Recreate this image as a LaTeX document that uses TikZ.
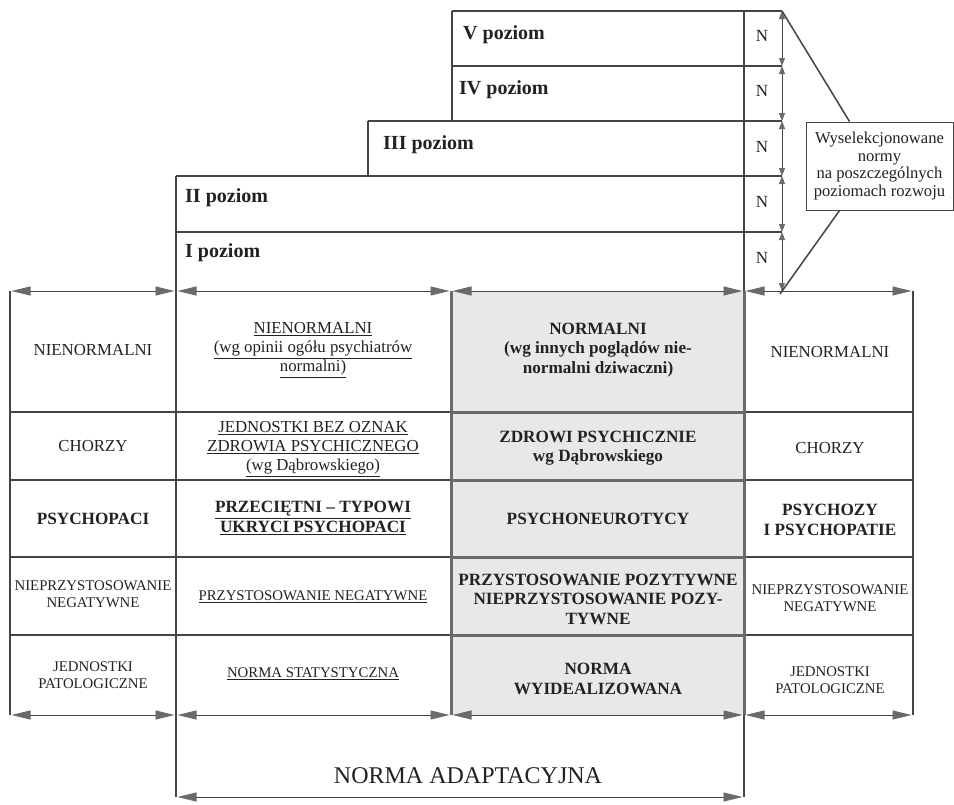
\documentclass[tikz,border=0pt]{standalone}
\usepackage{fontspec}
\setmainfont{Liberation Serif}
\usetikzlibrary{arrows.meta,calc}
\definecolor{linecol}{HTML}{444444}
\definecolor{tipcol}{HTML}{6A6A6A}
\definecolor{shadecol}{HTML}{E8E8E8}
\definecolor{thickcol}{HTML}{6A6A6A}
\definecolor{txtcol}{HTML}{222222}
\newcommand{\fsMain}{\fontsize{16.8}{19}\selectfont}
\newcommand{\fsBold}{\fontsize{17.2}{19.5}\selectfont\bfseries}
\newcommand{\fsSmall}{\fontsize{14.8}{16.5}\selectfont}
\begin{document}
\begin{tikzpicture}[x=1pt,y=-1pt,
  gridline/.style={draw=linecol,line width=1.1pt},
  boldline/.style={draw=thickcol,line width=3pt},
  dimarrow/.style={draw=linecol,line width=0.9pt,
    {Triangle[length=19pt,width=9pt,color=tipcol,fill=tipcol]}-{Triangle[length=19pt,width=9pt,color=tipcol,fill=tipcol]},
    shorten <=1.5pt,shorten >=1.5pt},
  lvlarrow/.style={draw=linecol,line width=0.9pt,
    {Triangle[length=8pt,width=6pt,color=tipcol,fill=tipcol]}-{Triangle[length=8pt,width=6pt,color=tipcol,fill=tipcol]}},
  cell/.style={align=center,text=txtcol,font=\fsMain,inner sep=0pt},
  smallcell/.style={align=center,text=txtcol,font=\fsSmall,inner sep=0pt},
  boldcell/.style={align=center,text=txtcol,font=\fsBold,inner sep=0pt},
  lvl/.style={anchor=west,text=txtcol,font=\fontsize{20}{22}\selectfont\bfseries,inner sep=0pt},
  nlab/.style={text=txtcol,font=\fontsize{17}{19}\selectfont,inner sep=0pt},
]
\useasboundingbox (0,0) rectangle (954,804);
\fill[white] (0,0) rectangle (954,804);

% grid coordinates
\foreach \xx [count=\i from 0] in {10,176,451,744,913}{
  \foreach \yy [count=\j from 0] in {291,412,480,557,635,715,797}{
    \coordinate (g\i\j) at (\xx,\yy);
  }
}
% level coordinates
\coordinate (P5) at (452,11);
\coordinate (P4) at (452,66);
\coordinate (P3) at (368,121);
\coordinate (Q3) at (452,121);
\coordinate (P2) at (176,176);
\coordinate (Q2) at (368,176);
\coordinate (P1) at (176,232);
\coordinate (R5) at (782,11);
\coordinate (R4) at (782,66);
\coordinate (R3) at (782,121);
\coordinate (R2) at (782,176);
\coordinate (R1) at (782,232);
\coordinate (R0) at (782,291);
\coordinate (Ntop) at (744,11);

% shaded column
\fill[shadecol] (g20) rectangle (g35);

% level boxes
\draw[gridline] (P5) -- (R5);
\draw[gridline] (P4) -- (R4);
\draw[gridline] (P3) -- (R3);
\draw[gridline] (P2) -- (R2);
\draw[gridline] (P1) -- (R1);
\draw[gridline] (P5) -- (Q3);
\draw[gridline] (P3) -- (Q2);
\draw[gridline] (P2) -- (g16);
\draw[gridline] (Ntop) -- (g36);
\draw[lvlarrow] (R5) -- (R4);
\draw[lvlarrow] (R4) -- (R3);
\draw[lvlarrow] (R3) -- (R2);
\draw[lvlarrow] (R2) -- (R1);
\draw[lvlarrow] (R1) -- (R0);

% outer verticals
\draw[gridline] (g00) -- (g05);
\draw[gridline] (g40) -- (g45);

% row dividers
\foreach \j in {1,2,3,4}{
  \draw[gridline] (g0\j) -- (g2\j);
  \draw[gridline] (g3\j) -- (g4\j);
}
\foreach \j in {1,2,3,4}{
  \draw[boldline] (g2\j) -- (g3\j);
}
\draw[boldline] (g20) -- (g25);
\draw[boldline] (g30) -- (g35);

% dimension arrows
\foreach \j in {0,5}{
  \draw[dimarrow] (g0\j) -- (g1\j);
  \draw[dimarrow] (g1\j) -- (g2\j);
  \draw[dimarrow] (g2\j) -- (g3\j);
  \draw[dimarrow] (g3\j) -- (g4\j);
}
\draw[dimarrow] (g16) -- (g36);

% selection box
\node[draw=linecol,line width=0.9pt,minimum width=147pt,minimum height=88pt,inner sep=0pt,
      align=center,text=txtcol,font=\fontsize{16.6}{17.8}\selectfont] (sel) at (879.5,166)
  {Wyselekcjonowane\\normy\\na poszczególnych\\poziomach rozwoju};
\coordinate (selA) at ($(sel.north west)+(44,0)$);
\coordinate (selB) at ($(sel.south west)+(34,0)$);
\coordinate (selC) at (780,294);
\draw[draw=linecol,line width=1.5pt] (R5) -- (selA);
\draw[draw=linecol,line width=1.5pt] (selB) -- (selC);

% level labels
\node[lvl] (l5) at (463,35) {V poziom};
\node[lvl] (l4) at (459,90) {IV poziom};
\node[lvl] (l3) at (383,145) {III poziom};
\node[lvl] (l2) at (185,198) {II poziom};
\node[lvl] (l1) at (185,253) {I poziom};
\node[nlab] (n5) at (762,36) {N};
\node[nlab] (n4) at (762,91) {N};
\node[nlab] (n3) at (762,147) {N};
\node[nlab] (n2) at (762,202) {N};
\node[nlab] (n1) at (762,258) {N};

% column 1
\node[cell] (a1) at (93,350) {NIENORMALNI};
\node[cell] (a2) at (93,446) {CHORZY};
\node[boldcell] (a3) at (93,519) {PSYCHOPACI};
\node[smallcell] (a4) at (93,594) {NIEPRZYSTOSOWANIE\\NEGATYWNE};
\node[smallcell] (a5) at (93,675) {JEDNOSTKI\\PATOLOGICZNE};

% column 2
\node[cell] (b1) at (313,350) {\underline{NIENORMALNI}\\\underline{(wg opinii ogółu psychiatrów}\\\underline{normalni)}};
\node[cell] (b2) at (313,449) {\underline{JEDNOSTKI BEZ OZNAK}\\\underline{ZDROWIA PSYCHICZNEGO}\\\underline{(wg Dąbrowskiego)}};
\node[boldcell] (b3) at (313,518) {\underline{PRZECIĘTNI – TYPOWI}\\\underline{UKRYCI PSYCHOPACI}};
\node[smallcell] (b4) at (313,597) {\underline{PRZYSTOSOWANIE NEGATYWNE}};
\node[smallcell] (b5) at (313,674) {\underline{NORMA STATYSTYCZNA}};

% column 3
\node[boldcell] (s1) at (598,350) {NORMALNI\\(wg innych poglądów nie-\\normalni dziwaczni)};
\node[boldcell] (s2) at (598,448) {ZDROWI PSYCHICZNIE\\wg Dąbrowskiego};
\node[boldcell] (s3) at (598,519) {PSYCHONEUROTYCY};
\node[boldcell] (s4) at (598,599) {PRZYSTOSOWANIE POZYTYWNE\\NIEPRZYSTOSOWANIE POZY-\\TYWNE};
\node[boldcell] (s5) at (598,679) {NORMA\\WYIDEALIZOWANA};

% column 4
\node[cell] (d1) at (830,352) {NIENORMALNI};
\node[cell] (d2) at (830,448) {CHORZY};
\node[boldcell] (d3) at (830,520) {PSYCHOZY\\I PSYCHOPATIE};
\node[smallcell] (d4) at (830,598) {NIEPRZYSTOSOWANIE\\NEGATYWNE};
\node[smallcell] (d5) at (830,680) {JEDNOSTKI\\PATOLOGICZNE};

% bottom label
\node[text=txtcol,font=\fontsize{24}{28}\selectfont,inner sep=0pt] (adapt) at (468,776) {NORMA ADAPTACYJNA};
\end{tikzpicture}
\end{document}
